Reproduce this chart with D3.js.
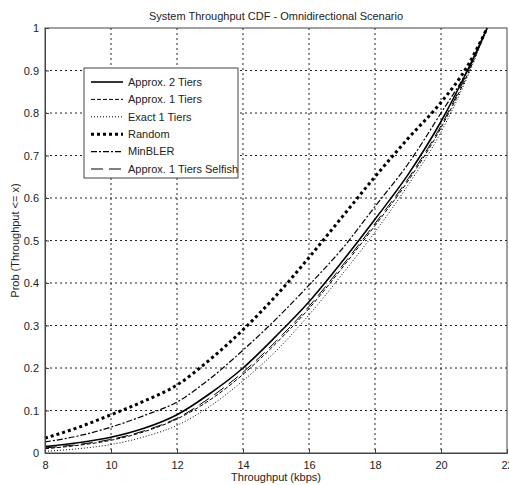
<!DOCTYPE html>
<html>
<head>
<meta charset="utf-8">
<script src="https://cdnjs.cloudflare.com/ajax/libs/d3/7.8.5/d3.min.js"></script>
<style>
  body { margin: 0; background: #fff; }
  text { font-family: Arial, "Liberation Sans", sans-serif; fill: #222; }
</style>
</head>
<body>
<svg width="509" height="485"></svg>
<script>
// throughput sample points (kbps)
var xs = [8, 9, 10, 11, 12, 13, 14, 15, 16, 17, 18, 19, 20, 20.8, 21.4];

var approx2 = [0.015, 0.024, 0.037, 0.058, 0.09, 0.14, 0.2, 0.275, 0.356, 0.45, 0.55, 0.655, 0.78, 0.9, 1.0];
var approx1 = [0.01, 0.018, 0.03, 0.05, 0.08, 0.125, 0.185, 0.258, 0.34, 0.435, 0.535, 0.64, 0.765, 0.89, 1.0];
var exact1  = [0.004, 0.01, 0.02, 0.038, 0.065, 0.11, 0.17, 0.24, 0.325, 0.42, 0.52, 0.63, 0.755, 0.885, 1.0];
var randomS = [0.035, 0.06, 0.09, 0.122, 0.16, 0.22, 0.29, 0.37, 0.46, 0.555, 0.65, 0.74, 0.825, 0.91, 1.0];
var minbler = [0.026, 0.04, 0.061, 0.088, 0.12, 0.175, 0.242, 0.315, 0.395, 0.48, 0.58, 0.68, 0.8, 0.9, 1.0];
var selfish = [0.012, 0.02, 0.032, 0.052, 0.082, 0.13, 0.19, 0.263, 0.345, 0.44, 0.54, 0.645, 0.77, 0.895, 1.0];

var xTicks = [8, 10, 12, 14, 16, 18, 20, 22];
var yTicks = [0, 0.1, 0.2, 0.3, 0.4, 0.5, 0.6, 0.7, 0.8, 0.9, 1];

var series = [
  { name: "Approx. 2 Tiers", vals: approx2, width: 1.6, dash: null },
  { name: "Approx. 1 Tiers", vals: approx1, width: 1, dash: "4,2" },
  { name: "Exact 1 Tiers", vals: exact1, width: 1, dash: "1,2" },
  { name: "Random", vals: randomS, width: 3, dash: "3,3" },
  { name: "MinBLER", vals: minbler, width: 1.2, dash: "6,2,2,2" },
  { name: "Approx. 1 Tiers Selfish", vals: selfish, width: 1, dash: "12,6" }
];

var svg = d3.select("svg"),
    margin = { top: 28, right: 2, bottom: 32, left: 45 },
    width = +svg.attr("width") - margin.left - margin.right,
    height = +svg.attr("height") - margin.top - margin.bottom;

var x = d3.scaleLinear().domain([8, 22]).range([0, width]),
    y = d3.scaleLinear().domain([0, 1]).range([height, 0]);

var g = svg.append("g")
    .attr("transform", "translate(" + margin.left + "," + margin.top + ")");

// grid
g.append("g").selectAll("line")
  .data(xTicks.slice(1, -1))
  .enter().append("line")
    .attr("x1", d => x(d)).attr("x2", d => x(d))
    .attr("y1", 0).attr("y2", height)
    .attr("stroke", "#222").attr("stroke-width", 1)
    .attr("stroke-dasharray", "2,3");

g.append("g").selectAll("line")
  .data(yTicks.slice(1, -1))
  .enter().append("line")
    .attr("x1", 0).attr("x2", width)
    .attr("y1", d => y(d)).attr("y2", d => y(d))
    .attr("stroke", "#222").attr("stroke-width", 1)
    .attr("stroke-dasharray", "2,3");

// curves
var line = d3.line()
    .curve(d3.curveMonotoneX)
    .x(function(d, i) { return x(xs[i]); })
    .y(function(d) { return y(d); });

series.forEach(function(s) {
  g.append("path")
    .datum(s.vals)
    .attr("fill", "none")
    .attr("stroke", "#000")
    .attr("stroke-width", s.width)
    .attr("stroke-dasharray", s.dash)
    .attr("d", line);
});

// axes
var xAxis = d3.axisBottom(x).tickValues(xTicks).tickSize(-4).tickPadding(8);
var yAxis = d3.axisLeft(y).tickValues(yTicks).tickSize(-4).tickPadding(6)
    .tickFormat(function(d) { return d; });

g.append("g")
  .attr("transform", "translate(0," + height + ")")
  .call(xAxis)
  .call(function(a) {
    a.select(".domain").attr("stroke", "#444");
    a.selectAll(".tick line").attr("stroke", "#444");
    a.selectAll("text").style("font-size", "11px").attr("fill", "#222");
  });

g.append("g")
  .call(yAxis)
  .call(function(a) {
    a.select(".domain").attr("stroke", "#444");
    a.selectAll(".tick line").attr("stroke", "#444");
    a.selectAll("text").style("font-size", "11px").attr("fill", "#222");
  });

// box
g.append("rect")
  .attr("width", width).attr("height", height)
  .attr("fill", "none").attr("stroke", "#444").attr("stroke-width", 1);

// titles
svg.append("text")
  .attr("x", margin.left + width / 2)
  .attr("y", 20)
  .attr("text-anchor", "middle")
  .style("font-size", "11px")
  .text("System Throughput CDF - Omnidirectional Scenario");

svg.append("text")
  .attr("x", margin.left + width / 2)
  .attr("y", 481)
  .attr("text-anchor", "middle")
  .style("font-size", "11px")
  .text("Throughput (kbps)");

svg.append("text")
  .attr("transform", "rotate(-90)")
  .attr("x", -(margin.top + height / 2))
  .attr("y", 19)
  .attr("text-anchor", "middle")
  .style("font-size", "11px")
  .text("Prob (Throughput <= x)");

// legend
var legend = svg.append("g").attr("transform", "translate(84,68)");
legend.append("rect")
  .attr("width", 154).attr("height", 110)
  .attr("fill", "#fff").attr("stroke", "#444");

var item = legend.selectAll(".item")
  .data(series)
  .enter().append("g")
    .attr("transform", function(d, i) { return "translate(0," + (14 + i * 17.4) + ")"; });

item.append("line")
  .attr("x1", 7).attr("x2", 39)
  .attr("stroke", "#000")
  .attr("stroke-width", d => d.width)
  .attr("stroke-dasharray", d => d.dash);

item.append("text")
  .attr("x", 44).attr("dy", "0.35em")
  .style("font-size", "11px")
  .text(d => d.name);
</script>
</body>
</html>
